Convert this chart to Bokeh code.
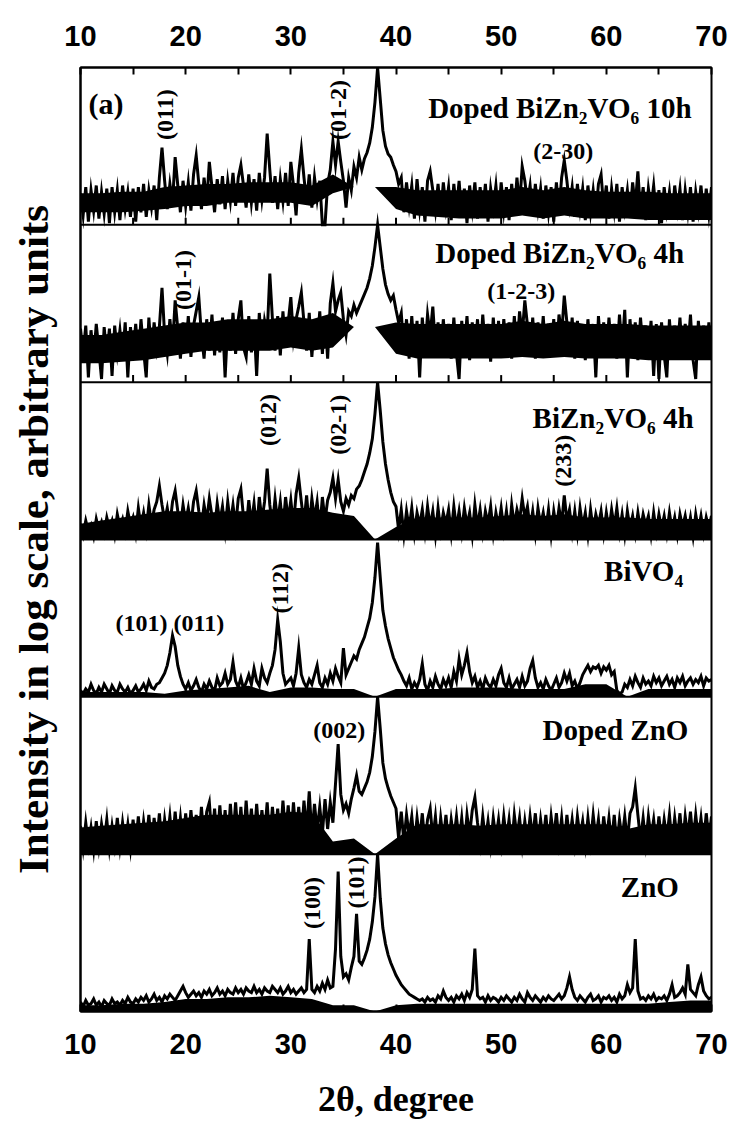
import math
from bokeh.plotting import figure
from bokeh.models import Range1d, LinearAxis, FixedTicker, Span, Label
from bokeh.embed import file_html
from bokeh.resources import INLINE

# ---------------- data ----------------
# 2-theta sampling grid: 10.0 .. 70.0 degrees every 0.25 degree (241 points)
theta_start = 10.0
theta_step = 0.25

# intensities, in percent of each panel's height (log scale, arbitrary units)
zno = [6,3,7,4,5,8,4,6,3,7,5,4,8,5,6,4,7,5,9,6,
       5,8,6,9,7,10,6,8,11,7,9,6,10,8,11,9,7,10,13,16,
       12,9,11,13,10,12,9,13,11,14,10,12,15,11,13,10,14,12,11,15,
       12,14,11,15,13,12,16,12,14,11,15,13,12,16,14,12,15,11,13,16,
       12,14,11,13,15,12,14,46,14,12,16,13,18,14,20,15,16,40,89,35,
       22,24,20,28,35,62,32,30,34,39,46,57,73,100,72,53,43,36,31,27,
       23,20,17,15,13,11,10,9,8,7,8,6,9,7,8,6,10,8,13,9,
       7,9,6,10,8,11,7,12,9,14,40,10,8,9,6,10,7,9,8,6,
       9,7,10,8,6,9,7,11,8,6,12,9,7,10,8,6,9,7,10,8,
       7,9,11,8,10,15,22,14,9,7,10,8,6,9,11,7,8,10,6,9,
       8,10,7,9,6,11,8,10,17,12,15,46,13,8,9,7,10,8,11,7,
       9,8,10,7,11,17,9,10,12,15,11,30,14,12,10,17,22,13,10,8,
       9]

doped_zno = [18,4,20,6,17,3,21,5,19,8,22,4,18,6,23,5,20,7,19,4,
             22,6,24,5,21,8,25,4,23,7,26,5,22,9,24,6,27,8,23,5,
             26,7,28,9,25,6,30,8,27,33,10,29,7,31,9,28,6,32,10,33,
             9,30,7,34,11,29,8,32,10,28,12,33,8,30,11,29,9,34,12,31,
             8,33,11,30,10,34,14,40,12,32,15,30,13,35,16,33,20,45,70,38,
             28,32,26,35,42,50,40,38,42,46,52,62,78,100,80,58,48,42,37,33,
             29,10,27,8,25,12,24,6,23,9,26,7,22,29,10,24,5,23,9,25,
             6,22,10,24,8,23,5,25,12,28,36,20,7,24,9,21,6,23,10,22,
             7,24,9,22,5,25,11,23,6,21,8,24,10,26,7,22,9,25,6,24,
             10,26,8,23,5,25,9,22,7,24,11,21,6,23,8,25,10,22,5,24,
             9,23,7,25,6,22,10,24,8,26,30,42,25,9,23,7,24,11,22,6,
             24,8,22,10,25,7,23,9,26,6,24,11,27,8,25,10,23,7,26,9,
             24]

bivo4 = [4,2,5,3,8,4,2,6,3,8,5,2,7,4,3,8,5,3,6,2,
         4,7,3,5,8,4,10,6,5,8,9,12,15,20,28,39,32,20,13,8,
         5,9,4,7,11,6,3,8,5,10,6,4,12,7,9,15,8,11,22,10,
         6,12,5,9,14,8,18,10,7,18,12,9,15,20,30,49,35,15,8,10,
         12,7,15,31,14,9,6,11,8,14,20,9,6,12,8,15,10,18,13,9,
         31,14,18,22,26,24,30,34,38,44,50,60,76,98,76,55,45,37,31,25,
         21,17,14,10,7,12,5,9,6,11,21,8,4,10,6,13,8,5,11,7,
         12,6,16,10,24,14,20,28,16,9,13,6,10,5,12,8,6,11,7,14,
         18,9,6,12,5,8,11,6,13,7,10,18,23,12,6,9,5,11,7,4,
         8,12,6,9,15,10,15,7,10,5,9,14,17,20,16,19,18,20,15,19,
         17,20,14,16,4,2,3,8,6,11,7,13,9,6,12,8,10,7,13,9,
         12,7,10,13,8,11,6,12,9,13,7,10,12,8,11,9,13,7,12,10,
         11]

bizn2vo6_4h = [10,3,12,5,9,2,13,6,11,4,14,7,12,3,16,8,13,5,18,9,
               14,4,20,8,17,6,22,10,19,24,34,22,12,20,9,24,31,18,8,22,
               11,20,9,24,31,18,8,22,12,26,15,7,23,11,21,6,24,10,22,8,
               26,32,14,6,25,10,23,5,27,12,24,45,22,9,26,11,24,7,27,12,
               25,9,29,39,24,10,28,8,26,13,24,6,27,12,25,30,39,26,38,24,
               18,26,22,28,26,32,34,38,43,48,55,64,80,100,82,62,48,38,30,24,
               21,6,19,3,18,7,20,4,17,9,19,5,21,8,18,3,20,6,17,10,
               19,4,21,7,18,5,20,9,17,3,22,8,19,5,18,10,21,4,17,8,
               20,6,18,3,22,9,19,12,26,14,21,7,18,4,20,9,17,6,19,3,
               18,7,20,10,28,12,19,5,18,4,20,8,17,3,19,6,16,9,18,4,
               17,6,19,8,20,5,16,3,18,7,15,4,17,6,16,9,15,3,17,5,
               16,7,15,4,17,6,14,3,16,8,15,5,14,2,16,6,15,4,14,7,
               15]

doped_bizn2vo6_4h = [34,18,36,3,33,15,37,20,2,35,17,34,4,36,19,33,16,38,3,35,
                     18,37,15,40,20,3,41,17,38,22,35,60,30,18,40,22,52,34,15,38,
                     20,42,16,36,45,54,30,15,40,20,43,17,38,19,41,3,37,20,44,18,
                     40,52,22,16,42,19,38,4,44,21,39,30,69,40,20,42,17,45,22,38,
                     54,28,40,48,57,38,20,44,16,40,22,45,18,42,15,50,63,45,52,57,
                     40,30,45,42,49,44,48,52,56,60,66,74,86,100,86,72,62,56,52,55,
                     46,38,44,20,40,15,42,18,39,3,41,20,43,30,48,22,38,16,40,19,
                     37,15,41,18,2,39,20,42,14,38,19,40,16,43,21,37,13,41,18,39,
                     17,40,20,38,15,42,19,45,30,52,36,18,41,15,38,20,42,16,37,19,
                     40,17,43,30,55,38,18,41,15,39,20,36,14,40,18,37,3,42,19,38,
                     16,41,20,37,15,43,21,46,3,40,18,38,14,41,20,36,16,39,4,37,
                     2,38,17,3,40,15,36,19,41,16,37,20,43,14,2,39,18,36,15,38,
                     20]

doped_bizn2vo6_10h = [20,6,24,2,22,9,25,4,21,7,23,1,24,8,22,3,25,10,21,5,
                      23,2,24,8,26,5,22,11,25,3,30,49,28,10,26,14,43,25,8,28,
                      12,27,9,32,44,26,10,30,14,40,24,8,29,13,31,10,28,15,33,12,
                      30,38,25,11,32,14,29,9,33,16,30,58,35,14,31,10,29,15,33,12,
                      40,25,6,33,48,30,14,32,11,30,16,28,0,0,26,35,53,38,53,40,
                      28,11,30,22,37,30,43,35,42,46,52,62,78,100,80,60,50,45,43,38,
                      34,26,30,8,27,12,25,4,29,10,24,2,28,34,22,9,26,5,27,11,
                      24,3,26,9,28,6,23,1,25,10,27,4,24,8,26,2,23,11,25,5,
                      27,9,24,3,26,7,30,12,37,28,14,25,6,26,10,23,4,25,8,24,
                      2,27,9,30,41,28,12,24,5,26,10,23,3,25,8,22,6,26,32,11,
                      25,4,23,9,26,2,24,10,22,5,27,12,34,8,24,3,23,11,25,6,
                      22,1,24,9,21,4,25,10,23,3,22,8,24,2,21,9,25,5,23,7,
                      24]

# dense-noise band (solid black region of each trace), every 2 degrees, % of panel
band_theta = [10,12,14,16,18,20,22,24,26,28,30,32,34,36,38,40,42,44,46,48,
              50,52,54,56,58,60,62,64,66,68,70]
zno_band_lo = [0,0,0,0,0,0,0,0,0,0,0,0,0,0,0,0,0,0,0,0,0,0,0,0,0,0,0,0,0,0,0]
zno_band_hi = [4,4,5,5,6,8,8,9,9,10,9,8,4,4,0,4,5,5,5,5,5,5,5,5,5,5,5,5,6,7,7]
doped_zno_band_lo = [0,0,0,0,0,0,0,0,0,0,0,0,0,0,0,0,0,0,0,0,0,0,0,0,0,0,0,0,0,0,0]
doped_zno_band_hi = [17,18,19,20,21,23,25,25,25,25,27,26,8,10,0,10,19,19,19,18,
                     19,19,19,19,19,19,16,19,19,20,20]
bivo4_band_lo = [0,0,0,0,0,0,0,0,0,0,0,0,0,0,0,0,0,0,0,0,0,0,0,0,0,0,0,0,0,0,0]
bivo4_band_hi = [3,3,3,3,2,4,5,6,7,3,6,6,5,5,0,5,5,5,6,6,6,5,5,5,8,8,0,5,5,5,5]
bizn2vo6_4h_band_lo = [0,0,0,0,0,0,0,0,0,0,0,0,0,0,0,0,0,0,0,0,0,0,0,0,0,0,0,0,0,0,0]
bizn2vo6_4h_band_hi = [10,12,14,16,18,18,17,18,18,19,20,20,17,15,0,8,14,14,14,14,
                       15,16,15,16,14,14,14,13,13,13,13]
doped_4h_band_lo = [12,12,13,14,16,18,20,20,20,20,22,20,22,35,35,18,15,15,15,15,
                    15,16,15,16,15,15,15,14,14,14,14]
doped_4h_band_hi = [30,30,32,34,36,38,38,40,40,40,42,40,44,35,35,38,37,37,37,37,
                    37,39,37,39,37,37,37,36,36,36,36]
doped_10h_band_lo = [8,8,8,9,10,12,12,14,14,14,14,12,20,24,24,10,6,5,4,4,
                     4,6,4,6,4,4,4,3,3,3,3]
doped_10h_band_hi = [20,20,21,21,24,25,26,26,27,27,27,25,32,24,24,24,22,22,22,22,
                     22,24,22,24,22,21,21,21,20,20,20]

# panels from bottom to top
series = [zno, doped_zno, bivo4, bizn2vo6_4h, doped_bizn2vo6_4h, doped_bizn2vo6_10h]
bands = [(zno_band_lo, zno_band_hi), (doped_zno_band_lo, doped_zno_band_hi),
         (bivo4_band_lo, bivo4_band_hi), (bizn2vo6_4h_band_lo, bizn2vo6_4h_band_hi),
         (doped_4h_band_lo, doped_4h_band_hi), (doped_10h_band_lo, doped_10h_band_hi)]
sample_names = ["ZnO", "Doped ZnO", "BiVO\u2084", "BiZn\u2082VO\u2086 4h",
                "Doped BiZn\u2082VO\u2086 4h", "Doped BiZn\u2082VO\u2086 10h"]

# x axis ticks
tick_labels = [10, 20, 30, 40, 50, 60, 70]
minor_tick_values = [15, 25, 35, 45, 55, 65]
inner_tick_values = [15, 20, 25, 30, 35, 40, 45, 50, 55, 60, 65]

# reflections: (text, 2theta, height in panel units, vertical?)
reflections = [
    ("(011)", 18.0, 5.70, True),
    ("(01-2)", 34.5, 5.73, True),
    ("(2-30)", 55.9, 5.47, False),
    ("(01-1)", 19.7, 4.65, True),
    ("(1-2-3)", 51.9, 4.58, False),
    ("(012)", 27.8, 3.76, True),
    ("(02-1)", 34.5, 3.73, True),
    ("(233)", 55.9, 3.50, True),
    ("(101) (011)", 18.5, 2.47, False),
    ("(112)", 29.0, 2.69, True),
    ("(002)", 34.6, 1.79, False),
    ("(100)", 32.0, 0.69, True),
    ("(101)", 36.2, 0.82, True),
]
# sample label anchors (right edge 2theta, height)
name_pos = [(66.9, 0.79), (67.8, 1.79), (67.3, 2.80), (68.3, 3.77), (67.4, 4.82), (68.1, 5.74)]

y_title = "Intensity in log scale, arbitrary units"
x_title = "2\u03b8, degree"

# ---------------- figure ----------------
SERIF = "Liberation Serif"
SANS = "Liberation Sans"

p = figure(width=733, height=1126,
           x_range=Range1d(10, 70), y_range=Range1d(0, 6),
           output_backend="svg", toolbar_location=None,
           min_border_left=80, min_border_right=22,
           min_border_top=67, min_border_bottom=115)
p.grid.visible = False
p.outline_line_color = "black"
p.outline_line_width = 2
p.background_fill_color = "white"
p.border_fill_color = "white"

def style_x_axis(ax):
    ax.ticker = FixedTicker(ticks=tick_labels, minor_ticks=minor_tick_values)
    ax.major_tick_in = 7
    ax.major_tick_out = 0
    ax.minor_tick_in = 7
    ax.minor_tick_out = 0
    ax.major_tick_line_width = 2
    ax.minor_tick_line_width = 2
    ax.axis_line_width = 2
    ax.axis_line_color = "black"
    ax.major_tick_line_color = "black"
    ax.minor_tick_line_color = "black"
    ax.major_label_text_font = SANS
    ax.major_label_text_font_style = "bold"
    ax.major_label_text_font_size = "29px"
    ax.major_label_text_color = "black"

bottom = p.xaxis[0]
style_x_axis(bottom)
bottom.major_label_standoff = 22
bottom.axis_label = x_title
bottom.axis_label_text_font = SERIF
bottom.axis_label_text_font_style = "bold"
bottom.axis_label_text_font_size = "36px"
bottom.axis_label_text_color = "black"
bottom.axis_label_standoff = 22

top = LinearAxis()
style_x_axis(top)
top.major_label_standoff = 22
p.add_layout(top, "above")

left = p.yaxis[0]
left.ticker = FixedTicker(ticks=[])
left.major_tick_out = 0
left.minor_tick_out = 0
left.axis_line_width = 2
left.axis_line_color = "black"
left.axis_label = y_title
left.axis_label_text_font = SERIF
left.axis_label_text_font_style = "bold"
left.axis_label_text_font_size = "43px"
left.axis_label_text_color = "black"
left.axis_label_standoff = 24

# panel separators
for k in range(1, len(series)):
    p.add_layout(Span(location=k, dimension="width", line_color="black", line_width=2))

# inner ticks on the bottom of each upper panel
tick_len = 0.045
for k in range(1, len(series)):
    p.segment(x0=inner_tick_values, y0=[k] * len(inner_tick_values),
              x1=inner_tick_values, y1=[k + tick_len] * len(inner_tick_values),
              line_color="black", line_width=2)

# dense noise bands
for j, (lo, hi) in enumerate(bands):
    p.varea(x=band_theta, y1=[j + v / 100.0 for v in lo], y2=[j + v / 100.0 for v in hi],
            fill_color="black")

# traces
for j, vals in enumerate(series):
    xs = [theta_start + theta_step * i for i in range(len(vals))]
    ys = [j + v / 100.0 for v in vals]
    p.line(xs, ys, line_color="black", line_width=3, line_join="miter")

# sample names
for name, (xr, yc) in zip(sample_names, name_pos):
    p.add_layout(Label(x=xr, y=yc, text=name, text_align="right", text_baseline="middle",
                       text_font=SERIF, text_font_style="bold", text_font_size="29px",
                       text_color="black"))

# panel tag
p.add_layout(Label(x=10.76, y=5.77, text="(a)", text_align="left", text_baseline="middle",
                   text_font=SERIF, text_font_style="bold", text_font_size="30px",
                   text_color="black"))

# reflection indices
for text, xv, yv, vertical in reflections:
    p.add_layout(Label(x=xv, y=yv, text=text, text_align="center", text_baseline="middle",
                       angle=(math.pi / 2 if vertical else 0),
                       text_font=SERIF, text_font_style="bold", text_font_size="24px",
                       text_color="black"))

open("out.html", "w").write(file_html(p, INLINE))
